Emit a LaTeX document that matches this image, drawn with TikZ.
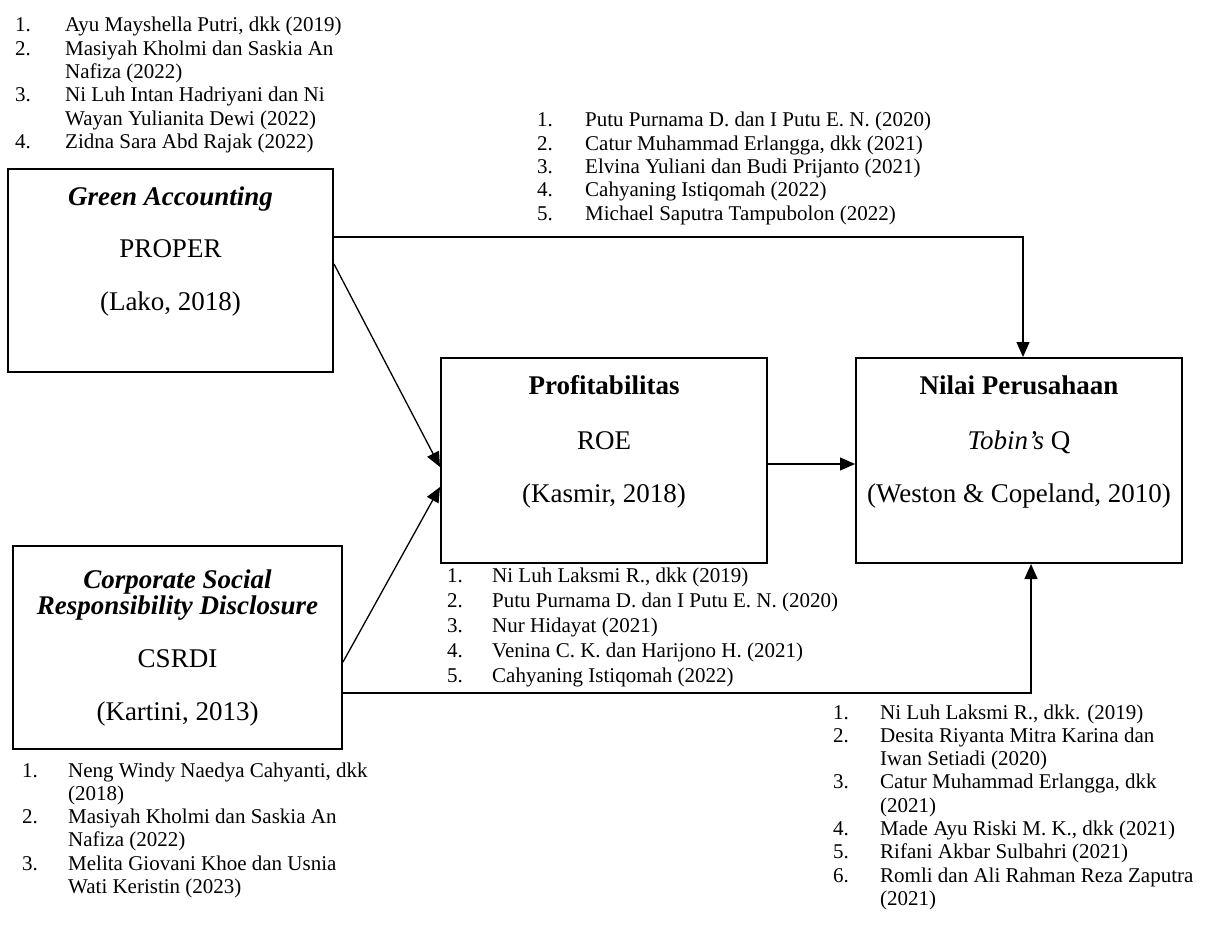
\documentclass[tikz,border=0pt]{standalone}
\usepackage{fontspec}
\setmainfont{Liberation Serif}
\usetikzlibrary{arrows.meta}
\begin{document}
\begin{tikzpicture}[x=1pt,y=-1pt,
  box/.style={draw, line width=2pt, inner sep=0pt},
  conn/.style={line width=1.3pt, -{Triangle[length=15pt,width=13pt]}},
  boxtext/.style={anchor=base, inner sep=0pt, font=\fontsize{27}{28}\selectfont},
  reflist/.style={anchor=base west, inner sep=0pt, font=\fontsize{21}{23.3}\selectfont},
  reflistb/.style={anchor=base west, inner sep=0pt, font=\fontsize{21}{25}\selectfont}]
\useasboundingbox (0,0) rectangle (1214,933);

% boxes
\node (ga) [box, minimum width=325pt, minimum height=203pt] at (170.5,270.5) {};
\node (cs) [box, minimum width=329pt, minimum height=203pt] at (177.5,647.5) {};
\node (pr) [box, minimum width=326pt, minimum height=205pt] at (604,460.5) {};
\node (np) [box, minimum width=326pt, minimum height=205pt] at (1019,460.5) {};

% box texts
\node (ga1) [boxtext] at (170.5,206) {\textbf{\textit{Green Accounting}}};
\node (ga2) [boxtext] at (170.5,258) {PROPER};
\node (ga3) [boxtext] at (170.5,310) {(Lako, 2018)};

\node (cs1) [boxtext] at (177.5,588) {\textbf{\textit{Corporate Social}}};
\node (cs2) [boxtext] at (177.5,614) {\textbf{\textit{Responsibility Disclosure}}};
\node (cs3) [boxtext] at (177.5,667) {CSRDI};
\node (cs4) [boxtext] at (177.5,720) {(Kartini, 2013)};

\node (pr1) [boxtext] at (604,394) {\textbf{Profitabilitas}};
\node (pr2) [boxtext] at (604,449) {ROE};
\node (pr3) [boxtext] at (604,502) {(Kasmir, 2018)};

\node (np1) [boxtext] at (1019,394) {\textbf{Nilai Perusahaan}};
\node (np2) [boxtext] at (1019,449) {\textit{Tobin’s} Q};
\node (np3) [boxtext] at (1019,502) {(Weston \& Copeland, 2010)};

% reference lists
\node (lga) [reflist] at (15,32) {\begin{tabular}[t]{@{}p{50pt}@{}l@{}}
1. & Ayu Mayshella Putri, dkk (2019)\\
2. & Masiyah Kholmi dan Saskia An\\
   & Nafiza (2022)\\
3. & Ni Luh Intan Hadriyani dan Ni\\
   & Wayan Yulianita Dewi (2022)\\
4. & Zidna Sara Abd Rajak (2022)
\end{tabular}};

\node (lgn) [reflist] at (537,127) {\begin{tabular}[t]{@{}p{48pt}@{}l@{}}
1. & Putu Purnama D. dan I Putu E. N. (2020)\\
2. & Catur Muhammad Erlangga, dkk (2021)\\
3. & Elvina Yuliani dan Budi Prijanto (2021)\\
4. & Cahyaning Istiqomah (2022)\\
5. & Michael Saputra Tampubolon (2022)
\end{tabular}};

\node (lpr) [reflistb] at (447,582) {\begin{tabular}[t]{@{}p{45pt}@{}l@{}}
1. & Ni Luh Laksmi R., dkk (2019)\\
2. & Putu Purnama D. dan I Putu E. N. (2020)\\
3. & Nur Hidayat (2021)\\
4. & Venina C. K. dan Harijono H. (2021)\\
5. & Cahyaning Istiqomah (2022)
\end{tabular}};

\node (lcs) [reflist] at (22,777) {\begin{tabular}[t]{@{}p{46pt}@{}l@{}}
1. & Neng Windy Naedya Cahyanti, dkk\\
   & (2018)\\
2. & Masiyah Kholmi dan Saskia An\\
   & Nafiza (2022)\\
3. & Melita Giovani Khoe dan Usnia\\
   & Wati Keristin (2023)
\end{tabular}};

\node (lnp) [reflist] at (833,719) {\begin{tabular}[t]{@{}p{47pt}@{}l@{}}
1. & Ni Luh Laksmi R., dkk. (2019)\\
2. & Desita Riyanta Mitra Karina dan\\
   & Iwan Setiadi (2020)\\
3. & Catur Muhammad Erlangga, dkk\\
   & (2021)\\
4. & Made Ayu Riski M. K., dkk (2021)\\
5. & Rifani Akbar Sulbahri (2021)\\
6. & Romli dan Ali Rahman Reza Zaputra\\
   & (2021)
\end{tabular}};

% connectors
\draw[conn] ([yshift=33.5pt]ga.east) -| ([xshift=4pt]np.north);
\draw[conn] ([yshift=-45.5pt]cs.east) -| ([xshift=12pt]np.south);
\draw[conn] ([yshift=-3.5pt]pr.east) -- ([yshift=-3.5pt]np.west);
\draw[conn] ([yshift=6.5pt]ga.east) -- ([yshift=-6.5pt]pr.west);
\draw[conn] ([yshift=-14.5pt]cs.east) -- ([yshift=-26.5pt]pr.west);
\end{tikzpicture}
\end{document}
